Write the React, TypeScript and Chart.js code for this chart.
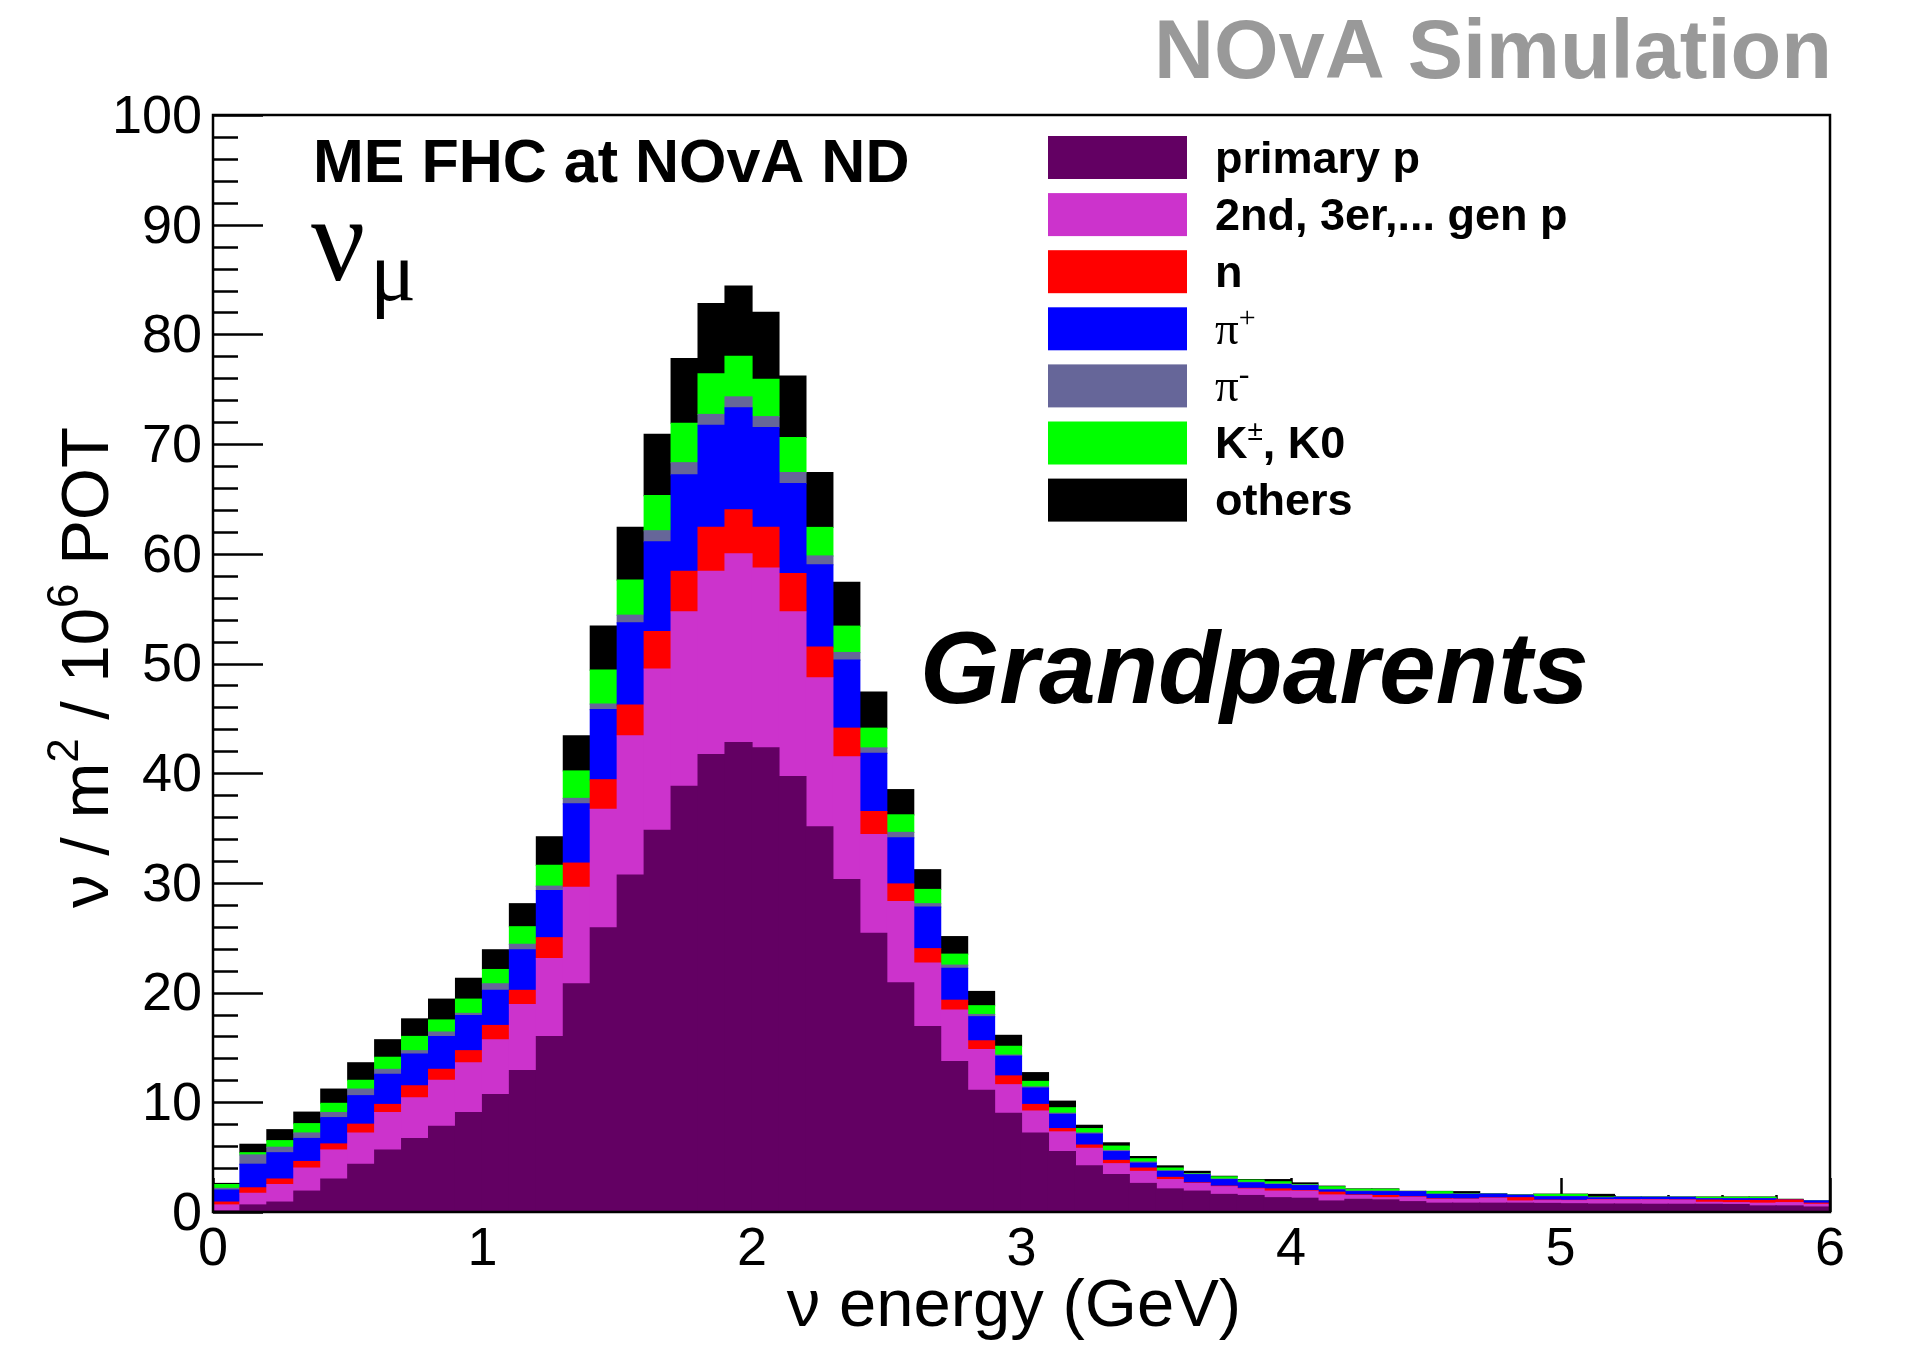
import React, { useEffect, useRef } from 'react';
import { Chart, registerables } from 'chart.js';

Chart.register(...registerables);

// 60 bins of 0.1 GeV between 0 and 6 GeV (category labels = bin low edge)
const binLabels: string[] = Array.from({ length: 60 }, (_, i) => (i / 10).toFixed(1));

// Stacked contributions (ν / m² / 10⁶ POT), bottom to top
const primaryP = [0.1, 0.64, 0.9, 1.9, 3.0, 4.35, 5.65, 6.7, 7.8, 9.06,
  10.7, 12.9, 16.0, 20.8, 25.9, 30.7, 34.8, 38.8, 41.7, 42.8,
  42.3, 39.7, 35.1, 30.3, 25.4, 20.9, 16.9, 13.7, 11.1, 9.0,
  7.2, 5.5, 4.2, 3.4, 2.6, 2.1, 1.9, 1.6, 1.5, 1.3,
  1.25, 1.0, 1.15, 1.1, 0.94, 0.8, 0.8, 0.8, 0.8, 0.78,
  0.75, 0.72, 0.72, 0.7, 0.7, 0.7, 0.68, 0.55, 0.55, 0.45];
const laterGenP = [0.54, 1.06, 1.6, 2.1, 2.65, 2.85, 3.41, 3.7, 4.2, 4.54,
  5.0, 6.0, 7.1, 8.8, 10.8, 12.7, 14.7, 15.9, 16.7, 17.2,
  16.4, 15.0, 13.6, 11.2, 9.0, 7.4, 5.8, 4.7, 3.7, 2.6,
  2.0, 1.8, 1.6, 1.0, 1.1, 0.85, 0.7, 0.7, 0.6, 0.6,
  0.65, 0.55, 0.35, 0.2, 0.4, 0.35, 0.35, 0.45, 0.2, 0.25,
  0.28, 0.38, 0.38, 0.4, 0.38, 0.18, 0.17, 0.25, 0.3, 0.25];
const neutron = [0.26, 0.5, 0.5, 0.6, 0.55, 0.8, 0.74, 1.1, 1.0, 1.1,
  1.3, 1.3, 1.9, 2.2, 2.7, 2.8, 3.4, 3.7, 4.0, 4.0,
  3.7, 3.5, 2.8, 2.6, 2.1, 1.6, 1.3, 0.9, 0.8, 0.8,
  0.6, 0.3, 0.3, 0.3, 0.3, 0.2, 0.05, 0.05, 0.05, 0.2,
  0.05, 0.25, 0.05, 0.2, 0.04, 0.05, 0.03, 0.03, 0.3, 0.05,
  0.03, 0.02, 0.02, 0.02, 0.02, 0.2, 0.2, 0.25, 0.25, 0.1];
const piPlus = [1.1, 2.15, 2.4, 2.1, 2.4, 2.6, 2.75, 2.9, 3.0, 3.2,
  3.2, 3.7, 4.3, 5.4, 6.4, 7.5, 8.2, 8.8, 9.3, 9.3,
  9.1, 8.2, 7.5, 6.2, 5.3, 4.2, 3.8, 2.9, 2.2, 1.8,
  1.5, 1.3, 1.0, 0.8, 0.45, 0.55, 0.75, 0.6, 0.5, 0.4,
  0.45, 0.2, 0.3, 0.35, 0.47, 0.4, 0.42, 0.34, 0.22, 0.3,
  0.32, 0.16, 0.21, 0.21, 0.23, 0.12, 0.15, 0.15, 0.02, 0.2];
const piMinus = [0.15, 0.85, 0.5, 0.5, 0.46, 0.6, 0.45, 0.3, 0.4, 0.2,
  0.6, 0.5, 0.4, 0.5, 0.5, 0.7, 1.0, 1.1, 1.0, 1.0,
  1.0, 1.0, 0.8, 0.7, 0.5, 0.5, 0.3, 0.3, 0.2, 0.1,
  0.1, 0.1, 0.1, 0.1, 0.1, 0.05, 0.05, 0.05, 0.05, 0.05,
  0.05, 0.05, 0.05, 0.05, 0.01, 0.02, 0.02, 0.02, 0.02, 0.02,
  0.02, 0.02, 0.01, 0.01, 0.01, 0.02, 0.02, 0.02, 0.01, 0.01];
const kaons = [0.35, 0.2, 0.6, 0.85, 0.84, 0.8, 1.1, 1.3, 1.1, 1.3,
  1.3, 1.6, 1.9, 2.5, 3.1, 3.2, 3.2, 3.6, 3.7, 3.7,
  3.4, 3.2, 2.6, 2.4, 1.8, 1.6, 1.3, 1.0, 0.8, 0.8,
  0.5, 0.5, 0.4, 0.4, 0.3, 0.25, 0.05, 0.2, 0.2, 0.2,
  0.05, 0.25, 0.17, 0.17, 0.01, 0.23, 0.03, 0.01, 0.01, 0.2,
  0.2, 0.06, 0.01, 0.01, 0.01, 0.12, 0.12, 0.12, 0.01, 0.01];
const others = [0.1, 0.77, 1.0, 1.05, 1.3, 1.6, 1.6, 1.6, 1.9, 1.9,
  1.8, 2.1, 2.6, 3.2, 4.0, 4.8, 5.6, 5.9, 6.4, 6.4,
  6.1, 5.6, 5.0, 4.0, 3.3, 2.3, 1.8, 1.6, 1.3, 1.0,
  0.8, 0.6, 0.3, 0.3, 0.2, 0.2, 0.2, 0.05, 0.05, 0.2,
  0.15, 0.05, 0.03, 0.03, 0.01, 0.02, 0.2, 0.01, 0.01, 0.02,
  0.02, 0.24, 0.01, 0.01, 0.01, 0.02, 0.02, 0.02, 0.01, 0.01];

const seriesNames = ['primary p', '2nd, 3er,... gen p', 'n', 'π+', 'π-', 'K±, K0', 'others'];
const seriesColors = ['#630063', '#cc33cc', '#ff0000', '#0000ff', '#666699', '#00ff00', '#000000'];
const seriesData = [primaryP, laterGenP, neutron, piPlus, piMinus, kaons, others];

const SANS = '"Liberation Sans", Arial, Helvetica, sans-serif';
const SERIF = '"Liberation Serif", "Times New Roman", serif';

type Seg = { t: string; f: string; dy?: number };

function drawRich(ctx: CanvasRenderingContext2D, segs: Seg[], x: number, y: number, align: 'left' | 'center') {
  const ws = segs.map((s) => { ctx.font = s.f; return ctx.measureText(s.t).width; });
  const total = ws.reduce((a, b) => a + b, 0);
  let cx = align === 'center' ? x - total / 2 : x;
  ctx.textAlign = 'left';
  ctx.textBaseline = 'alphabetic';
  segs.forEach((s, i) => {
    ctx.font = s.f;
    ctx.fillText(s.t, cx, y + (s.dy || 0));
    cx += ws[i];
  });
}

const legendSegs: Seg[][] = [
  [{ t: 'primary p', f: `bold 45px ${SANS}` }],
  [{ t: '2nd, 3er,... gen p', f: `bold 45px ${SANS}` }],
  [{ t: 'n', f: `bold 45px ${SANS}` }],
  [{ t: 'π', f: `47px ${SERIF}` }, { t: '+', f: `30px ${SERIF}`, dy: -17 }],
  [{ t: 'π', f: `47px ${SERIF}` }, { t: '-', f: `32px ${SERIF}`, dy: -17 }],
  [{ t: 'K', f: `bold 45px ${SANS}` }, { t: '±', f: `28px ${SANS}`, dy: -18 }, { t: ', K0', f: `bold 45px ${SANS}` }],
  [{ t: 'others', f: `bold 45px ${SANS}` }],
];

const rootPlugin = {
  id: 'rootDecor',
  beforeDatasetsDraw(chart: any) {
    const { ctx, chartArea: a, scales } = chart;
    const y = scales.y;
    const x2 = scales.x2;
    ctx.save();
    ctx.strokeStyle = '#000';
    ctx.lineWidth = 2.5;
    ctx.beginPath();
    for (let i = 0; i <= 50; i++) {
      const v = i * 2;
      const py = Math.round(y.getPixelForValue(v)) + 0.5;
      const len = i % 5 === 0 ? 50 : 25;
      ctx.moveTo(a.left, py);
      ctx.lineTo(a.left + len, py);
    }
    for (let i = 0; i <= 30; i++) {
      const v = i * 0.2;
      const px = Math.round(x2.getPixelForValue(v)) + 0.5;
      const len = i % 5 === 0 ? 34 : 17;
      ctx.moveTo(px, a.bottom);
      ctx.lineTo(px, a.bottom - len);
    }
    ctx.stroke();
    ctx.restore();
  },
  afterDatasetsDraw(chart: any) {
    const { ctx, chartArea: a } = chart;
    ctx.save();
    ctx.strokeStyle = '#000';
    ctx.lineWidth = 2.5;
    ctx.strokeRect(a.left, a.top, a.right - a.left, a.bottom - a.top);
    ctx.restore();
  },
  afterDraw(chart: any) {
    const { ctx, chartArea: a } = chart;
    ctx.save();
    ctx.fillStyle = '#000';

    // axis titles
    drawRich(ctx, [{ t: 'ν energy (GeV)', f: `67px ${SANS}` }], 1014, 1326, 'center');
    ctx.save();
    ctx.translate(108, (a.top + a.bottom) / 2 + 4);
    ctx.rotate(-Math.PI / 2);
    drawRich(ctx, [
      { t: 'ν / m', f: `67px ${SANS}` },
      { t: '2', f: `44px ${SANS}`, dy: -30 },
      { t: ' / 10', f: `67px ${SANS}` },
      { t: '6', f: `44px ${SANS}`, dy: -30 },
      { t: ' POT', f: `67px ${SANS}` },
    ], 0, 0, 'center');
    ctx.restore();

    // NOvA Simulation
    ctx.fillStyle = '#999999';
    drawRich(ctx, [{ t: 'NOvA Simulation', f: `bold 83px ${SANS}` }], 1154, 78, 'left');

    ctx.fillStyle = '#000';
    drawRich(ctx, [{ t: 'ME FHC at NOvA ND', f: `bold 61px ${SANS}` }], 313, 182, 'left');
    drawRich(ctx, [{ t: 'ν', f: `120px ${SERIF}` }], 311, 280, 'left');
    drawRich(ctx, [{ t: 'μ', f: `86px ${SERIF}` }], 370, 300, 'left');
    drawRich(ctx, [{ t: 'Grandparents', f: `italic bold 102px ${SANS}` }], 920, 703, 'left');

    // legend
    const ds = chart.data.datasets;
    for (let i = 0; i < ds.length; i++) {
      const top = 136 + i * 57.1;
      ctx.fillStyle = ds[i].backgroundColor;
      ctx.fillRect(1048, top, 139, 43);
      ctx.fillStyle = '#000';
      drawRich(ctx, legendSegs[i], 1215, top + 21.5 + 15, 'left');
    }
    ctx.restore();
  },
};

export default function App() {
  const ref = useRef<HTMLCanvasElement | null>(null);
  useEffect(() => {
    if (!ref.current) return;
    const chart = new Chart(ref.current, {
      type: 'bar',
      data: {
        labels: binLabels,
        datasets: seriesData.map((d, i) => ({
          label: seriesNames[i],
          data: d,
          backgroundColor: seriesColors[i],
          borderWidth: 0,
          inflateAmount: 0.6,
          barPercentage: 1,
          categoryPercentage: 1,
          xAxisID: 'x',
          yAxisID: 'y',
        })),
      },
      options: {
        responsive: false,
        animation: false,
        devicePixelRatio: 1,
        layout: { padding: { top: 115, right: 85, left: 0, bottom: 0 } },
        plugins: { legend: { display: false }, tooltip: { enabled: false }, title: { display: false } },
        scales: {
          x: { type: 'category', display: false, stacked: true, offset: true },
          x2: {
            type: 'linear',
            position: 'bottom',
            min: 0,
            max: 6,
            offset: false,
            display: true,
            grid: { display: false, offset: false },
            border: { display: false },
            ticks: { stepSize: 1, font: { family: SANS, size: 54, lineHeight: 1 }, color: '#000', padding: 3, maxRotation: 0, autoSkip: false },
            afterFit: (s: any) => { s.height = 133; },
          },
          y: {
            type: 'linear',
            position: 'left',
            stacked: true,
            min: 0,
            max: 100,
            grid: { display: false },
            border: { display: false },
            ticks: { stepSize: 10, font: { family: SANS, size: 54 }, color: '#000', padding: 3, labelOffset: 3 },
            afterFit: (s: any) => { s.width = 213; },
          },
        },
      } as any,
      plugins: [rootPlugin],
    });
    return () => chart.destroy();
  }, []);
  return (
    <div style={{ position: 'absolute', left: 0, top: 0, width: 1915, height: 1345, background: '#fff' }}>
      <canvas ref={ref} width={1915} height={1345} style={{ display: 'block' }} />
    </div>
  );
}
